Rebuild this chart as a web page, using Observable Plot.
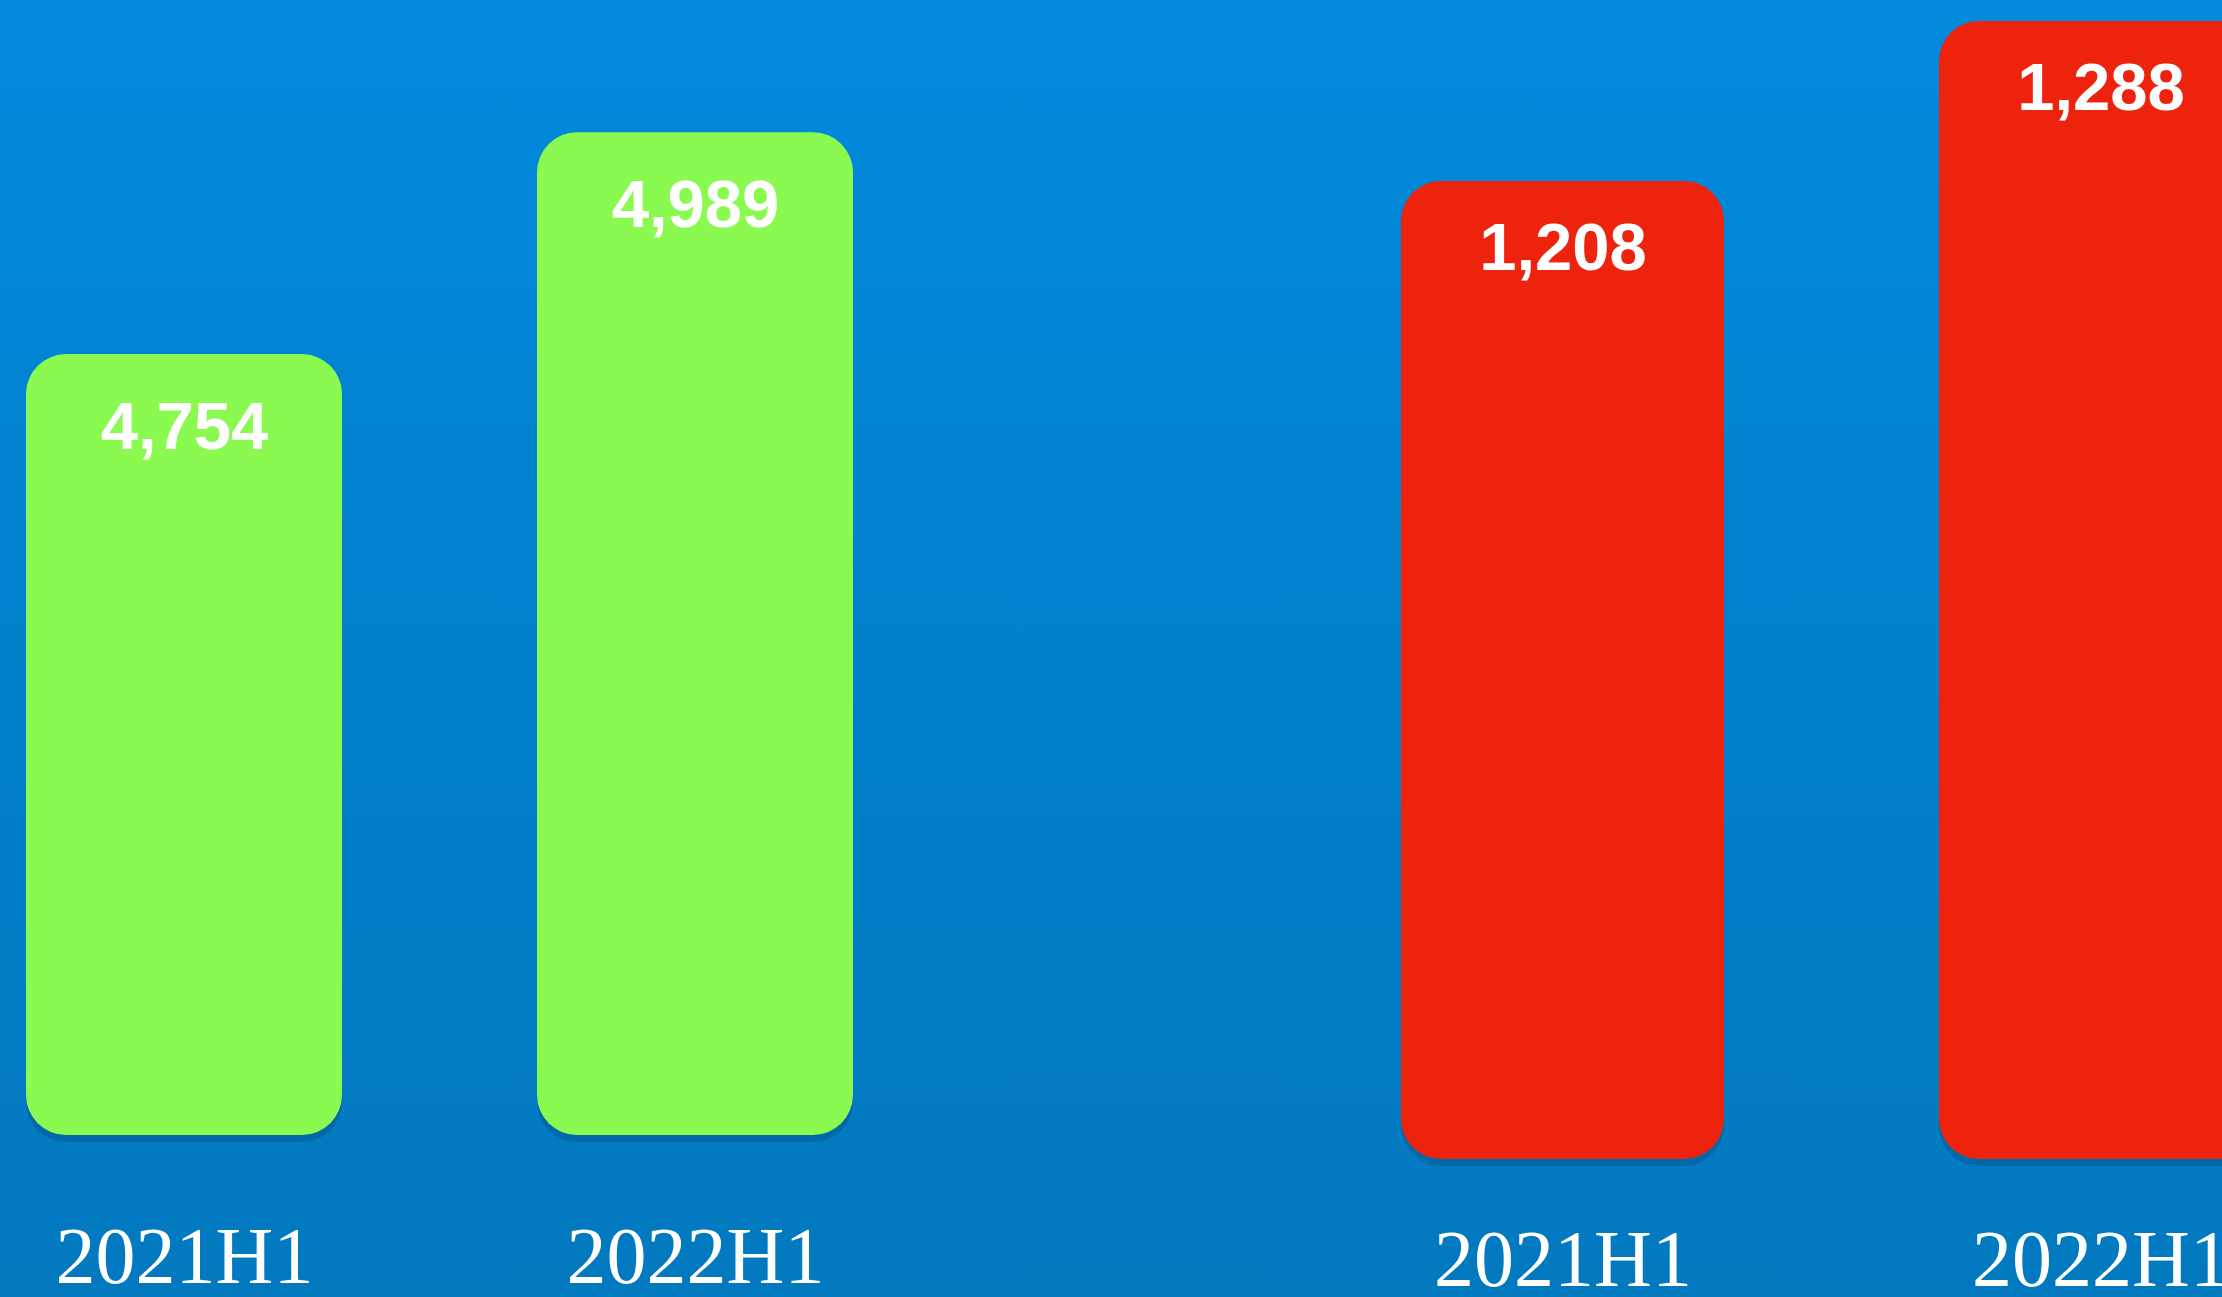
<!DOCTYPE html>
<html>
<head>
<meta charset="utf-8">
<script src="https://cdn.jsdelivr.net/npm/d3@7"></script>
<script src="https://cdn.jsdelivr.net/npm/@observablehq/plot@0.6"></script>
<style>
  html, body { margin: 0; padding: 0; overflow: hidden; }
  #stage {
    position: relative; width: 2222px; height: 1297px; overflow: hidden;
    background: linear-gradient(to bottom, #028ADD 0%, #0280CC 50%, #0279BF 100%);
  }
  .panel { position: absolute; top: 0; }
</style>
</head>
<body>
<div id="stage">
  <div class="panel" id="green"></div>
  <div class="panel" id="red"></div>
</div>
<script>
// Data
const greenPeriods = ["2021H1", "2022H1"];
const greenValues = [4754, 4989];
const redPeriods = ["2021H1", "2022H1"];
const redValues = [1208, 1288];

const fmt = d3.format(",");

function panel(periods, values, cfg) {
  const data = periods.map((p, i) => ({period: p, value: values[i]}));
  return Plot.plot({
    width: cfg.width,
    height: 1297,
    marginLeft: cfg.marginLeft,
    marginRight: cfg.marginRight,
    marginTop: 0,
    marginBottom: cfg.marginBottom,
    style: {background: "transparent", maxWidth: "none", overflow: "visible", color: "white"},
    x: {domain: periods, paddingInner: cfg.padding, paddingOuter: 0, label: null},
    y: {domain: cfg.yDomain, clamp: true, axis: null},
    marks: [
      Plot.barY(data, {x: "period", y: "value", fill: "#003f75", fillOpacity: 0.3, rx: 40, ry: 40, dy: 7}),
      Plot.barY(data, {x: "period", y: "value", fill: cfg.color, rx: 40, ry: 40}),
      Plot.text(data, {
        x: "period", y: "value", text: d => fmt(d.value),
        fill: "white", fontSize: 67, fontWeight: "bold",
        fontFamily: "'Liberation Sans', Arial, Helvetica, sans-serif",
        lineAnchor: "bottom", dy: cfg.labelDy
      }),
      Plot.axisX({
        tickSize: 0, tickPadding: cfg.tickPadding, fontSize: 80,
        fontFamily: "'Liberation Serif', 'Times New Roman', serif",
        fill: "white", label: null
      })
    ]
  });
}

const g = panel(greenPeriods, greenValues, {
  width: 1111, marginLeft: 26, marginRight: 258, marginBottom: 162,
  padding: 0.382, yDomain: [3927, 5129], color: "#8BFA50", tickPadding: 91, labelDy: 94
});
document.getElementById("green").style.left = "0px";
document.getElementById("green").appendChild(g);

const r = panel(redPeriods, redValues, {
  width: 1151, marginLeft: 289, marginRight: 0, marginBottom: 138,
  padding: 0.40, yDomain: [719, 1298.5], color: "#EE230D", tickPadding: 70, labelDy: 88
});
document.getElementById("red").style.left = "1111px";
document.getElementById("red").appendChild(r);
</script>
</body>
</html>
